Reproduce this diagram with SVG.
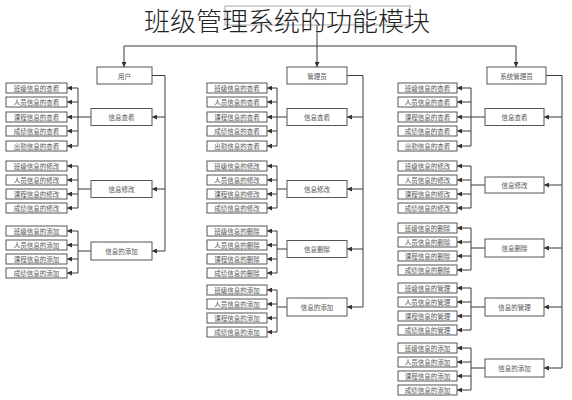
<svg xmlns="http://www.w3.org/2000/svg" width="572" height="400" viewBox="0 0 572 400">
<style>
.b{fill:#fff;stroke:#555;stroke-width:1}
.t{font-family:"Noto Sans CJK SC","Noto Sans",sans-serif;font-size:6.5px;fill:#555;text-anchor:middle;dominant-baseline:central}
.c path{fill:none;stroke:#3a3a3a;stroke-width:1}
.c .a{marker-end:url(#ar)}
</style>
<defs>
<marker id="ar" viewBox="0 0 6 6" refX="6" refY="3" markerWidth="5" markerHeight="5" orient="auto" markerUnits="userSpaceOnUse"><path d="M0,0 L6,3 L0,6 z" fill="#333"/></marker>
</defs>
<rect width="572" height="400" fill="#fff"/>
<g id="root"><rect x="225" y="6" width="185" height="19" fill="#fff" stroke="#aaa"/></g>
<text x="287" y="31" font-family="'Noto Sans CJK SC',sans-serif" font-size="26" font-weight="300" fill="#222" text-anchor="middle">班级管理系统的功能模块</text>
<g class="c" id="connectors">
<path d="M317,25 V46"/>
<path d="M124,46 H516"/>
<path class="a" d="M124,46 V67"/><path class="a" d="M317,46 V67"/><path class="a" d="M516,46 V67"/>
<path d="M152,75.5 H165 V251"/>
<path class="a" d="M165,117 H152"/><path class="a" d="M165,189 H152"/><path class="a" d="M165,251 H152"/>
<path d="M91,117 H78 M78,88 V146"/>
<path class="a" d="M78,88 H67"/><path class="a" d="M78,102 H67"/><path class="a" d="M78,117 H67"/><path class="a" d="M78,131 H67"/><path class="a" d="M78,146 H67"/>
<path d="M91,189 H78 M78,166 V208"/>
<path class="a" d="M78,166 H67"/><path class="a" d="M78,180 H67"/><path class="a" d="M78,194 H67"/><path class="a" d="M78,208 H67"/>
<path d="M91,251 H78 M78,231 V273"/>
<path class="a" d="M78,231 H67"/><path class="a" d="M78,245 H67"/><path class="a" d="M78,259 H67"/><path class="a" d="M78,273 H67"/>
<path d="M347,75.5 H363 V307"/>
<path class="a" d="M363,117 H347"/><path class="a" d="M363,189 H347"/><path class="a" d="M363,249 H347"/><path class="a" d="M363,307 H347"/>
<path d="M287,117 H277 M277,88 V146"/>
<path class="a" d="M277,88 H267"/><path class="a" d="M277,102 H267"/><path class="a" d="M277,117 H267"/><path class="a" d="M277,131 H267"/><path class="a" d="M277,146 H267"/>
<path d="M287,189 H277 M277,166 V208"/>
<path class="a" d="M277,166 H267"/><path class="a" d="M277,180 H267"/><path class="a" d="M277,194 H267"/><path class="a" d="M277,208 H267"/>
<path d="M287,249 H277 M277,231 V273"/>
<path class="a" d="M277,231 H267"/><path class="a" d="M277,245 H267"/><path class="a" d="M277,259 H267"/><path class="a" d="M277,273 H267"/>
<path d="M287,307 H277 M277,290 V332"/>
<path class="a" d="M277,290 H267"/><path class="a" d="M277,304 H267"/><path class="a" d="M277,318 H267"/><path class="a" d="M277,332 H267"/>
<path d="M546,75.5 H562 V368"/>
<path class="a" d="M562,117 H544"/><path class="a" d="M562,185 H544"/><path class="a" d="M562,248 H544"/><path class="a" d="M562,307 H544"/><path class="a" d="M562,368 H544"/>
<path d="M485,117 H471 M471,88 V146"/>
<path class="a" d="M471,88 H457"/><path class="a" d="M471,102 H457"/><path class="a" d="M471,117 H457"/><path class="a" d="M471,131 H457"/><path class="a" d="M471,146 H457"/>
<path d="M485,185 H471 M471,166 V208"/>
<path class="a" d="M471,166 H457"/><path class="a" d="M471,180 H457"/><path class="a" d="M471,194 H457"/><path class="a" d="M471,208 H457"/>
<path d="M485,248 H471 M471,228 V270"/>
<path class="a" d="M471,228 H457"/><path class="a" d="M471,242 H457"/><path class="a" d="M471,256 H457"/><path class="a" d="M471,270 H457"/>
<path d="M485,307 H471 M471,288 V330"/>
<path class="a" d="M471,288 H457"/><path class="a" d="M471,302 H457"/><path class="a" d="M471,316 H457"/><path class="a" d="M471,330 H457"/>
<path d="M485,368 H471 M471,348 V390"/>
<path class="a" d="M471,348 H457"/><path class="a" d="M471,362 H457"/><path class="a" d="M471,376 H457"/><path class="a" d="M471,390 H457"/>
</g>
<g id="user"><rect class="b" x="97" y="67" width="55" height="17"/><text class="t" x="124.5" y="75.5">用户</text></g>
<g id="l-g1"><rect class="b" x="91" y="108.5" width="61" height="17"/><text class="t" x="121.5" y="117">信息查看</text></g>
<g id="l-g2"><rect class="b" x="91" y="180.5" width="61" height="17"/><text class="t" x="121.5" y="189">信息修改</text></g>
<g id="l-g3"><rect class="b" x="91" y="242" width="61" height="18"/><text class="t" x="121.5" y="251">信息的添加</text></g>
<g id="l-1-1"><rect class="b" x="6" y="83" width="61" height="10"/><text class="t" x="36.5" y="88">班级信息的查看</text></g>
<g id="l-1-2"><rect class="b" x="6" y="97" width="61" height="10"/><text class="t" x="36.5" y="102">人员信息的查看</text></g>
<g id="l-1-3"><rect class="b" x="6" y="112" width="61" height="10"/><text class="t" x="36.5" y="117">课程信息的查看</text></g>
<g id="l-1-4"><rect class="b" x="6" y="126" width="61" height="10"/><text class="t" x="36.5" y="131">成绩信息的查看</text></g>
<g id="l-1-5"><rect class="b" x="6" y="141" width="61" height="10"/><text class="t" x="36.5" y="146">出勤信息的查看</text></g>
<g id="l-2-1"><rect class="b" x="6" y="161" width="61" height="10"/><text class="t" x="36.5" y="166">班级信息的修改</text></g>
<g id="l-2-2"><rect class="b" x="6" y="175" width="61" height="10"/><text class="t" x="36.5" y="180">人员信息的修改</text></g>
<g id="l-2-3"><rect class="b" x="6" y="189" width="61" height="10"/><text class="t" x="36.5" y="194">课程信息的修改</text></g>
<g id="l-2-4"><rect class="b" x="6" y="203" width="61" height="10"/><text class="t" x="36.5" y="208">成绩信息的修改</text></g>
<g id="l-3-1"><rect class="b" x="6" y="226" width="61" height="10"/><text class="t" x="36.5" y="231">班级信息的添加</text></g>
<g id="l-3-2"><rect class="b" x="6" y="240" width="61" height="10"/><text class="t" x="36.5" y="245">人员信息的添加</text></g>
<g id="l-3-3"><rect class="b" x="6" y="254" width="61" height="10"/><text class="t" x="36.5" y="259">课程信息的添加</text></g>
<g id="l-3-4"><rect class="b" x="6" y="268" width="61" height="10"/><text class="t" x="36.5" y="273">成绩信息的添加</text></g>
<g id="admin"><rect class="b" x="287" y="67" width="60" height="17"/><text class="t" x="317" y="75.5">管理员</text></g>
<g id="m-g1"><rect class="b" x="287" y="108.5" width="60" height="17"/><text class="t" x="317" y="117">信息查看</text></g>
<g id="m-g2"><rect class="b" x="287" y="180.5" width="60" height="17"/><text class="t" x="317" y="189">信息修改</text></g>
<g id="m-g3"><rect class="b" x="287" y="240.5" width="60" height="17"/><text class="t" x="317" y="249">信息删除</text></g>
<g id="m-g4"><rect class="b" x="287" y="298" width="60" height="18"/><text class="t" x="317" y="307">信息的添加</text></g>
<g id="m-1-1"><rect class="b" x="207" y="83" width="60" height="10"/><text class="t" x="237" y="88">班级信息的查看</text></g>
<g id="m-1-2"><rect class="b" x="207" y="97" width="60" height="10"/><text class="t" x="237" y="102">人员信息的查看</text></g>
<g id="m-1-3"><rect class="b" x="207" y="112" width="60" height="10"/><text class="t" x="237" y="117">课程信息的查看</text></g>
<g id="m-1-4"><rect class="b" x="207" y="126" width="60" height="10"/><text class="t" x="237" y="131">成绩信息的查看</text></g>
<g id="m-1-5"><rect class="b" x="207" y="141" width="60" height="10"/><text class="t" x="237" y="146">出勤信息的查看</text></g>
<g id="m-2-1"><rect class="b" x="207" y="161" width="60" height="10"/><text class="t" x="237" y="166">班级信息的修改</text></g>
<g id="m-2-2"><rect class="b" x="207" y="175" width="60" height="10"/><text class="t" x="237" y="180">人员信息的修改</text></g>
<g id="m-2-3"><rect class="b" x="207" y="189" width="60" height="10"/><text class="t" x="237" y="194">课程信息的修改</text></g>
<g id="m-2-4"><rect class="b" x="207" y="203" width="60" height="10"/><text class="t" x="237" y="208">成绩信息的修改</text></g>
<g id="m-3-1"><rect class="b" x="207" y="226" width="60" height="10"/><text class="t" x="237" y="231">班级信息的删除</text></g>
<g id="m-3-2"><rect class="b" x="207" y="240" width="60" height="10"/><text class="t" x="237" y="245">人员信息的删除</text></g>
<g id="m-3-3"><rect class="b" x="207" y="254" width="60" height="10"/><text class="t" x="237" y="259">课程信息的删除</text></g>
<g id="m-3-4"><rect class="b" x="207" y="268" width="60" height="10"/><text class="t" x="237" y="273">成绩信息的删除</text></g>
<g id="m-4-1"><rect class="b" x="207" y="285" width="60" height="10"/><text class="t" x="237" y="290">班级信息的添加</text></g>
<g id="m-4-2"><rect class="b" x="207" y="299" width="60" height="10"/><text class="t" x="237" y="304">人员信息的添加</text></g>
<g id="m-4-3"><rect class="b" x="207" y="313" width="60" height="10"/><text class="t" x="237" y="318">课程信息的添加</text></g>
<g id="m-4-4"><rect class="b" x="207" y="327" width="60" height="10"/><text class="t" x="237" y="332">成绩信息的添加</text></g>
<g id="sysadmin"><rect class="b" x="487" y="67" width="59" height="17"/><text class="t" x="516.5" y="75.5">系统管理员</text></g>
<g id="r-g1"><rect class="b" x="485" y="108.5" width="59" height="17"/><text class="t" x="514.5" y="117">信息查看</text></g>
<g id="r-g2"><rect class="b" x="485" y="177" width="59" height="16"/><text class="t" x="514.5" y="185">信息修改</text></g>
<g id="r-g3"><rect class="b" x="485" y="239" width="59" height="18"/><text class="t" x="514.5" y="248">信息删除</text></g>
<g id="r-g4"><rect class="b" x="485" y="298" width="59" height="18"/><text class="t" x="514.5" y="307">信息的管理</text></g>
<g id="r-g5"><rect class="b" x="485" y="359" width="59" height="18"/><text class="t" x="514.5" y="368">信息的添加</text></g>
<g id="r-1-1"><rect class="b" x="398" y="83" width="59" height="10"/><text class="t" x="427.5" y="88">班级信息的查看</text></g>
<g id="r-1-2"><rect class="b" x="398" y="97" width="59" height="10"/><text class="t" x="427.5" y="102">人员信息的查看</text></g>
<g id="r-1-3"><rect class="b" x="398" y="112" width="59" height="10"/><text class="t" x="427.5" y="117">课程信息的查看</text></g>
<g id="r-1-4"><rect class="b" x="398" y="126" width="59" height="10"/><text class="t" x="427.5" y="131">成绩信息的查看</text></g>
<g id="r-1-5"><rect class="b" x="398" y="141" width="59" height="10"/><text class="t" x="427.5" y="146">出勤信息的查看</text></g>
<g id="r-2-1"><rect class="b" x="398" y="161" width="59" height="10"/><text class="t" x="427.5" y="166">班级信息的修改</text></g>
<g id="r-2-2"><rect class="b" x="398" y="175" width="59" height="10"/><text class="t" x="427.5" y="180">人员信息的修改</text></g>
<g id="r-2-3"><rect class="b" x="398" y="189" width="59" height="10"/><text class="t" x="427.5" y="194">课程信息的修改</text></g>
<g id="r-2-4"><rect class="b" x="398" y="203" width="59" height="10"/><text class="t" x="427.5" y="208">成绩信息的修改</text></g>
<g id="r-3-1"><rect class="b" x="398" y="223" width="59" height="10"/><text class="t" x="427.5" y="228">班级信息的删除</text></g>
<g id="r-3-2"><rect class="b" x="398" y="237" width="59" height="10"/><text class="t" x="427.5" y="242">人员信息的删除</text></g>
<g id="r-3-3"><rect class="b" x="398" y="251" width="59" height="10"/><text class="t" x="427.5" y="256">课程信息的删除</text></g>
<g id="r-3-4"><rect class="b" x="398" y="265" width="59" height="10"/><text class="t" x="427.5" y="270">成绩信息的删除</text></g>
<g id="r-4-1"><rect class="b" x="398" y="283" width="59" height="10"/><text class="t" x="427.5" y="288">班级信息的管理</text></g>
<g id="r-4-2"><rect class="b" x="398" y="297" width="59" height="10"/><text class="t" x="427.5" y="302">人员信息的管理</text></g>
<g id="r-4-3"><rect class="b" x="398" y="311" width="59" height="10"/><text class="t" x="427.5" y="316">课程信息的管理</text></g>
<g id="r-4-4"><rect class="b" x="398" y="325" width="59" height="10"/><text class="t" x="427.5" y="330">成绩信息的管理</text></g>
<g id="r-5-1"><rect class="b" x="398" y="343" width="59" height="10"/><text class="t" x="427.5" y="348">班级信息的添加</text></g>
<g id="r-5-2"><rect class="b" x="398" y="357" width="59" height="10"/><text class="t" x="427.5" y="362">人员信息的添加</text></g>
<g id="r-5-3"><rect class="b" x="398" y="371" width="59" height="10"/><text class="t" x="427.5" y="376">课程信息的添加</text></g>
<g id="r-5-4"><rect class="b" x="398" y="385" width="59" height="10"/><text class="t" x="427.5" y="390">成绩信息的添加</text></g>
</svg>
